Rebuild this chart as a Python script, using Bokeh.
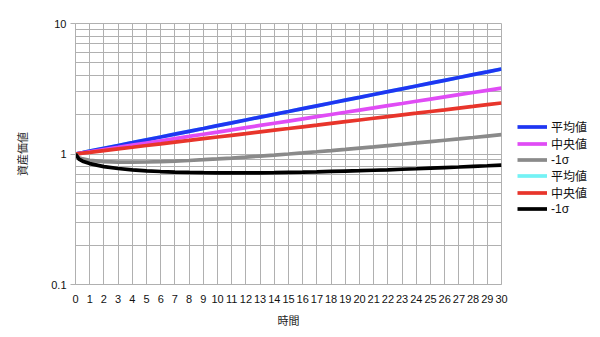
from bokeh.plotting import figure
from bokeh.layouts import row
from bokeh.models import Range1d, FixedTicker, CustomJSTickFormatter, Legend, LegendItem, ColumnDataSource
from bokeh.embed import file_html
from bokeh.resources import INLINE

years = [0, 0.25, 0.5] + list(range(1, 31))

mean_a = [1.000, 1.013, 1.025, 1.051, 1.105, 1.162, 1.221, 1.284, 1.350, 1.419, 1.492,
          1.568, 1.649, 1.733, 1.822, 1.916, 2.014, 2.117, 2.226, 2.340, 2.460, 2.586,
          2.718, 2.858, 3.004, 3.158, 3.320, 3.490, 3.669, 3.857, 4.055, 4.263, 4.482]
median_a = [1.000, 1.010, 1.020, 1.040, 1.081, 1.123, 1.168, 1.214, 1.262, 1.312, 1.363,
            1.417, 1.473, 1.532, 1.592, 1.655, 1.720, 1.788, 1.859, 1.932, 2.009, 2.088,
            2.171, 2.256, 2.346, 2.438, 2.535, 2.635, 2.739, 2.847, 2.959, 3.076, 3.198]
low_a = [1.000, 0.937, 0.917, 0.895, 0.874, 0.866, 0.865, 0.868, 0.874, 0.882, 0.892,
         0.904, 0.917, 0.931, 0.947, 0.964, 0.981, 1.000, 1.020, 1.041, 1.063, 1.086,
         1.110, 1.135, 1.161, 1.188, 1.216, 1.245, 1.275, 1.306, 1.338, 1.372, 1.406]
mean_b = list(mean_a)
median_b = [1.000, 1.008, 1.015, 1.030, 1.062, 1.094, 1.127, 1.162, 1.197, 1.234, 1.271,
            1.310, 1.350, 1.391, 1.433, 1.477, 1.522, 1.568, 1.616, 1.665, 1.716, 1.768,
            1.822, 1.878, 1.935, 1.994, 2.054, 2.117, 2.181, 2.248, 2.316, 2.387, 2.460]
low_b = [1.000, 0.912, 0.881, 0.844, 0.800, 0.774, 0.756, 0.743, 0.734, 0.727, 0.722,
         0.719, 0.717, 0.717, 0.717, 0.718, 0.720, 0.723, 0.726, 0.730, 0.735, 0.740,
         0.745, 0.751, 0.757, 0.764, 0.771, 0.779, 0.787, 0.795, 0.804, 0.813, 0.823]

series_labels = ["平均値", "中央値", "-1σ", "平均値", "中央値", "-1σ"]
series_values = [mean_a, median_a, low_a, mean_b, median_b, low_b]
series_colors = ["#1f36f2", "#e04cf5", "#8a8a8a", "#74f2f5", "#e8352b", "#000000"]
draw_order = [3, 0, 1, 4, 2, 5]

x_ticks = list(range(0, 31))
y_ticks = [0.1, 1, 10]
y_minor = [m * 10.0 ** e for e in (-1, 0) for m in range(2, 10)]

GRID = "#b0b0b0"
LATIN = "Liberation Sans, Noto Sans CJK JP"
CJK = "Noto Sans CJK JP"
LINE_W = 3.7

# ---- main chart ----
p = figure(width=508, height=337, output_backend="svg", toolbar_location=None,
           x_range=Range1d(0, 30), y_range=Range1d(0.1, 10), y_axis_type="log",
           min_border_left=75, min_border_right=7, min_border_top=23, min_border_bottom=53)

sources = [ColumnDataSource(dict(x=years, y=v)) for v in series_values]
for i in draw_order:
    p.line("x", "y", source=sources[i], line_color=series_colors[i], line_width=LINE_W)

p.outline_line_color = GRID
p.xgrid.grid_line_color = GRID
p.ygrid.grid_line_color = GRID
p.ygrid.minor_grid_line_color = GRID

p.xaxis.ticker = FixedTicker(ticks=x_ticks)
p.yaxis.ticker = FixedTicker(ticks=y_ticks, minor_ticks=y_minor)
p.yaxis.formatter = CustomJSTickFormatter(code="return tick >= 1 ? tick.toFixed(0) : tick.toFixed(1);")

for ax in (p.xaxis[0], p.yaxis[0]):
    ax.axis_line_color = GRID
    ax.major_tick_line_color = GRID
    ax.major_tick_in = 0
    ax.minor_tick_in = 0
    ax.minor_tick_out = 0
    ax.major_label_text_font = LATIN
    ax.major_label_text_font_size = "11px"
    ax.major_label_text_color = "#111111"
    ax.axis_label_text_font = CJK
    ax.axis_label_text_font_style = "normal"
    ax.axis_label_text_color = "#222222"

p.xaxis.major_tick_out = 0
p.xaxis.major_label_standoff = 10
p.xaxis.axis_label = "時間"
p.xaxis.axis_label_text_font_size = "11px"
p.xaxis.axis_label_standoff = 6

p.yaxis.major_tick_out = 5
p.yaxis.major_label_standoff = 4
p.yaxis.axis_label = "資産価値"
p.yaxis.axis_label_text_font_size = "11px"
p.yaxis.axis_label_standoff = 18

# ---- legend panel (same series, drawn outside its view so only the legend shows) ----
lg = figure(width=92, height=337, output_backend="svg", toolbar_location=None,
            x_range=Range1d(100, 101), y_range=Range1d(100, 101),
            x_axis_location=None, y_axis_location=None,
            min_border=0, outline_line_color=None)
lg.grid.visible = False
leg_renderers = [lg.line("x", "y", source=sources[i], line_color=series_colors[i], line_width=LINE_W)
                 for i in range(6)]
legend = Legend(items=[LegendItem(label=series_labels[i], renderers=[leg_renderers[i]]) for i in range(6)],
                location=(9, 68))
legend.background_fill_alpha = 0
legend.border_line_alpha = 0
legend.label_text_font_size = "12px"
legend.label_text_font = LATIN
legend.label_text_color = "#111111"
legend.glyph_width = 30
legend.glyph_height = 15
legend.label_height = 15
legend.spacing = 0
legend.padding = 0
legend.margin = 0
legend.label_standoff = 4
lg.add_layout(legend)

layout = row(p, lg, spacing=0)
open("out.html", "w").write(file_html(layout, INLINE))
